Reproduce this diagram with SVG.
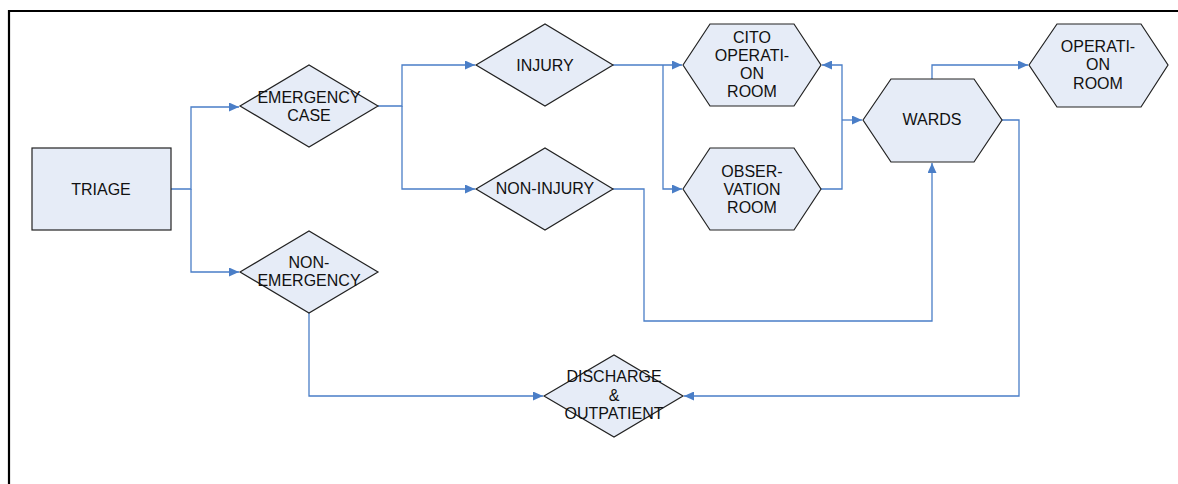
<svg xmlns="http://www.w3.org/2000/svg" width="1178" height="484" viewBox="0 0 1178 484">
<style>
.n{fill:#E6ECF7;stroke:#222;stroke-width:1.2}
.c{fill:none;stroke:#4A7EC7;stroke-width:1.3}
text{font-family:"Liberation Sans",Arial,sans-serif;font-size:16px;fill:#111;text-anchor:middle;dominant-baseline:central}
</style>
<defs>
<marker id="a" markerWidth="10" markerHeight="9" refX="10" refY="4.5" orient="auto" markerUnits="userSpaceOnUse">
<path d="M0,0 L10,4.5 L0,9 Z" fill="#4A7EC7"/>
</marker>
</defs>
<rect width="1178" height="484" fill="#fff"/>
<path d="M9,484 V11 H1178" fill="none" stroke="#000" stroke-width="2.2"/>
<g id="connectors">
<path class="c" d="M171,189 H191 V107 H239" marker-end="url(#a)"/>
<path class="c" d="M191,189 V272 H239" marker-end="url(#a)"/>
<path class="c" d="M378,106 H402 V65 H475" marker-end="url(#a)"/>
<path class="c" d="M402,106 V189 H475" marker-end="url(#a)"/>
<path class="c" d="M613,65 H682" marker-end="url(#a)"/>
<path class="c" d="M663,65 V189 H682" marker-end="url(#a)"/>
<path class="c" d="M821,189 H842 V65 H822" marker-end="url(#a)"/>
<path class="c" d="M842,120 H862" marker-end="url(#a)"/>
<path class="c" d="M613,189 H644 V321 H932 V163" marker-end="url(#a)"/>
<path class="c" d="M932,79 V65 H1028" marker-end="url(#a)"/>
<path class="c" d="M1002,120 H1019 V396 H684" marker-end="url(#a)"/>
<path class="c" d="M309,313 V396 H543" marker-end="url(#a)"/>
</g>
<g id="triage">
<rect class="n" x="32" y="148" width="139" height="82"/>
<text x="101" y="189">TRIAGE</text>
</g>
<g id="emergency">
<path class="n" d="M240,106 L309,65 L378,106 L309,147 Z"/>
<text x="309" y="97">EMERGENCY</text>
<text x="309" y="115">CASE</text>
</g>
<g id="non-emergency">
<path class="n" d="M240,272 L309,231 L378,272 L309,313 Z"/>
<text x="309" y="262">NON-</text>
<text x="309" y="280">EMERGENCY</text>
</g>
<g id="injury">
<path class="n" d="M476,65 L545,24 L613,65 L545,106 Z"/>
<text x="545" y="65">INJURY</text>
</g>
<g id="non-injury">
<path class="n" d="M476,189 L545,148 L613,189 L545,230 Z"/>
<text x="545" y="188">NON-INJURY</text>
</g>
<g id="cito">
<path class="n" d="M683,65 L710,24 L794,24 L821,65 L794,106 L710,106 Z"/>
<text x="752" y="37">CITO</text>
<text x="752" y="55">OPERATI-</text>
<text x="752" y="73">ON</text>
<text x="752" y="91">ROOM</text>
</g>
<g id="observation">
<path class="n" d="M683,189 L710,148 L794,148 L821,189 L794,230 L710,230 Z"/>
<text x="752" y="171">OBSER-</text>
<text x="752" y="189">VATION</text>
<text x="752" y="207">ROOM</text>
</g>
<g id="wards">
<path class="n" d="M863,120 L891,79 L974,79 L1002,120 L974,162 L891,162 Z"/>
<text x="932" y="119">WARDS</text>
</g>
<g id="operation-room">
<path class="n" d="M1029,65 L1057,24 L1141,24 L1168,65 L1141,107 L1057,107 Z"/>
<text x="1098" y="46">OPERATI-</text>
<text x="1098" y="64">ON</text>
<text x="1098" y="83">ROOM</text>
</g>
<g id="discharge">
<path class="n" d="M544,396 L614,355 L683,396 L614,437 Z"/>
<text x="614" y="376">DISCHARGE</text>
<text x="614" y="395">&amp;</text>
<text x="614" y="413">OUTPATIENT</text>
</g>
</svg>
